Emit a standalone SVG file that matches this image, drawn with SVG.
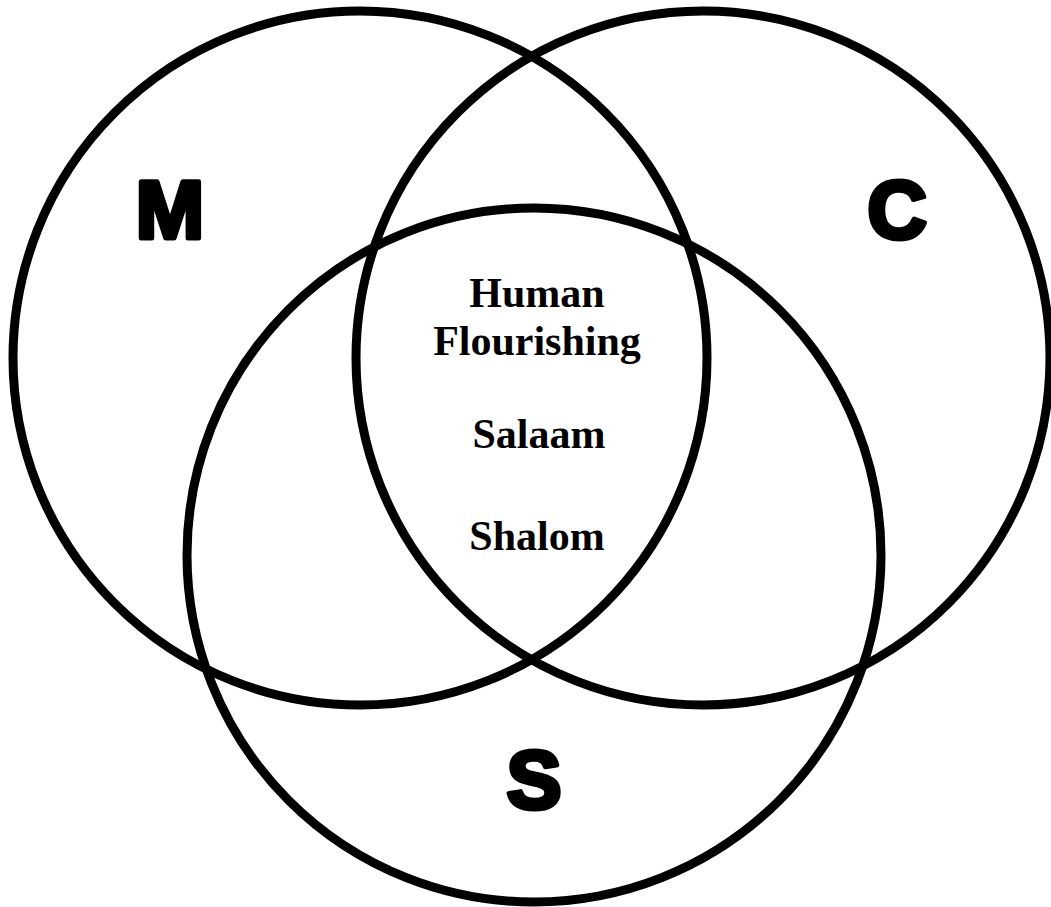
<svg xmlns="http://www.w3.org/2000/svg" width="1051" height="907" viewBox="0 0 1051 907">
<style>
.ring{fill:none;stroke:#000;stroke-width:9}
.big{font-family:"Liberation Sans",Arial,sans-serif;font-weight:bold;font-size:82px;fill:#000;stroke:#000;stroke-width:5;stroke-linejoin:round;text-anchor:middle}
.lbl{font-family:"Liberation Serif","Times New Roman",serif;font-weight:bold;font-size:42px;fill:#000;text-anchor:middle}
</style>
<rect width="1051" height="907" fill="#fff"/>
<g id="circle-M"><circle class="ring" cx="360" cy="358" r="347"/><text class="big" x="170" y="238">M</text></g>
<g id="circle-C"><circle class="ring" cx="703" cy="358" r="347"/><text class="big" x="897" y="238">C</text></g>
<g id="circle-S"><circle class="ring" cx="534" cy="555" r="347"/><text class="big" x="534" y="808">S</text></g>
<g id="center">
<text class="lbl" x="537" y="307">Human</text>
<text class="lbl" x="537" y="355">Flourishing</text>
<text class="lbl" x="539" y="448">Salaam</text>
<text class="lbl" x="537" y="550">Shalom</text>
</g>
<g id="connectors"/>
</svg>
